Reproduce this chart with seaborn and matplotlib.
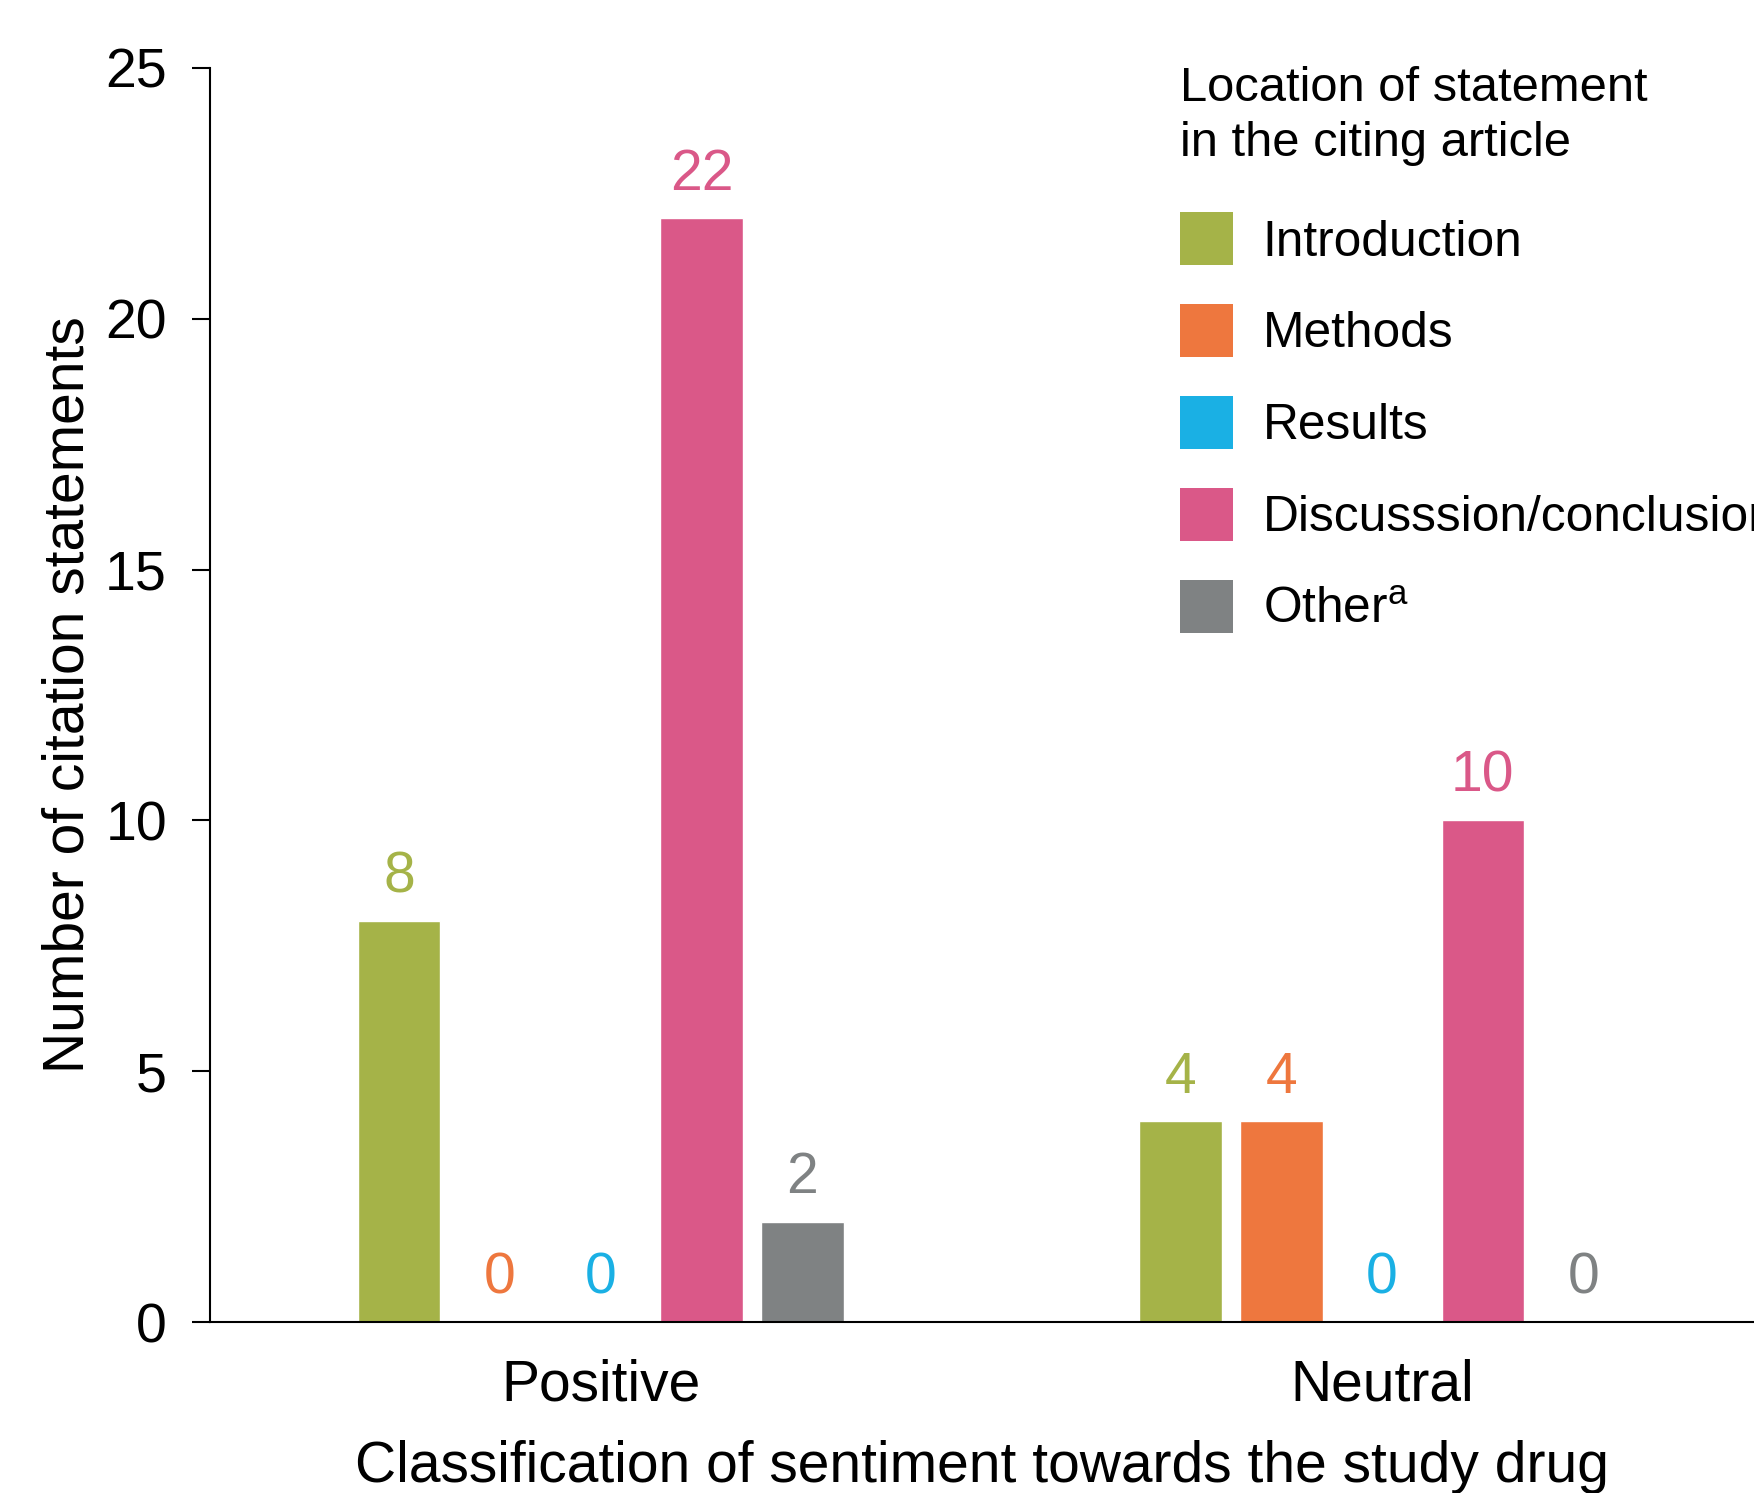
import matplotlib
matplotlib.use("Agg")
import matplotlib.pyplot as plt
from matplotlib.patches import Patch
import seaborn as sns
import pandas as pd

# Citation statement counts by sentiment and by section of the citing article
sentiments = ["Positive", "Neutral"]
locations = ["Introduction", "Methods", "Results", "Discusssion/conclusion", "Other"]
legend_labels = ["Introduction", "Methods", "Results", "Discusssion/conclusion",
                 "Other$^{\\mathrm{a}}$"]
positive_counts = [8, 0, 0, 22, 2]
neutral_counts = [4, 4, 0, 10, 0]
colors = ["#A5B348", "#EE773E", "#1AB0E4", "#DA5888", "#7F8283"]
y_ticks = [0, 5, 10, 15, 20, 25]

rows = []
for sent, counts in zip(sentiments, [positive_counts, neutral_counts]):
    for loc, c in zip(locations, counts):
        rows.append({"sentiment": sent, "location": loc, "count": c})
df = pd.DataFrame(rows)

sns.set_theme(style="ticks")
plt.rcParams["font.family"] = ["Liberation Sans", "DejaVu Sans"]
plt.rcParams["mathtext.fontset"] = "custom"
plt.rcParams["mathtext.rm"] = "Liberation Sans"
for key in ["text.color", "axes.labelcolor", "xtick.color", "ytick.color",
            "axes.edgecolor"]:
    plt.rcParams[key] = "black"

fig = plt.figure(figsize=(17.54, 14.93), dpi=100)
ax = fig.add_axes([0.1197, 0.1145, 1 - 0.1197, 0.9545 - 0.1145])

sns.barplot(data=df, x="sentiment", y="count", hue="location",
            order=sentiments, hue_order=locations, palette=colors,
            saturation=1, width=0.645, gap=0.18, legend=False, ax=ax,
            errorbar=None)

for cont, col in zip(ax.containers, colors):
    ax.bar_label(cont, fmt="%d", padding=12, color=col, fontsize=41)

ax.set_ylim(0, 25)
ax.set_xlim(-0.5, 1.476)
ax.set_yticks(y_ticks)
ax.tick_params(axis="y", labelsize=40, length=13, width=1.5, pad=18)
ax.tick_params(axis="x", labelsize=41, length=0, pad=26)
for s in ["top", "right"]:
    ax.spines[s].set_visible(False)
for s in ["left", "bottom"]:
    ax.spines[s].set_linewidth(1.5)

ax.set_ylabel("Number of citation statements", fontsize=41, labelpad=7)
ax.set_xlabel("Classification of sentiment towards the study drug", fontsize=41,
              labelpad=20)

handles = [Patch(facecolor=c, edgecolor="none") for c in colors]
leg = fig.legend(handles, legend_labels, title="Location of statement\nin the citing article",
                 loc="upper left", bbox_to_anchor=(1180 / 1754, 1 - 66 / 1493),
                 frameon=False, fontsize=35.7, title_fontsize=35.2,
                 handlelength=1.07, handleheight=1.27, handletextpad=0.6,
                 labelspacing=0.78, borderpad=0, borderaxespad=0)
leg._legend_box.align = "left"
leg._legend_box.sep = 33
leg.get_title().set_linespacing(1.3)

fig.savefig("out.png", dpi=100)
